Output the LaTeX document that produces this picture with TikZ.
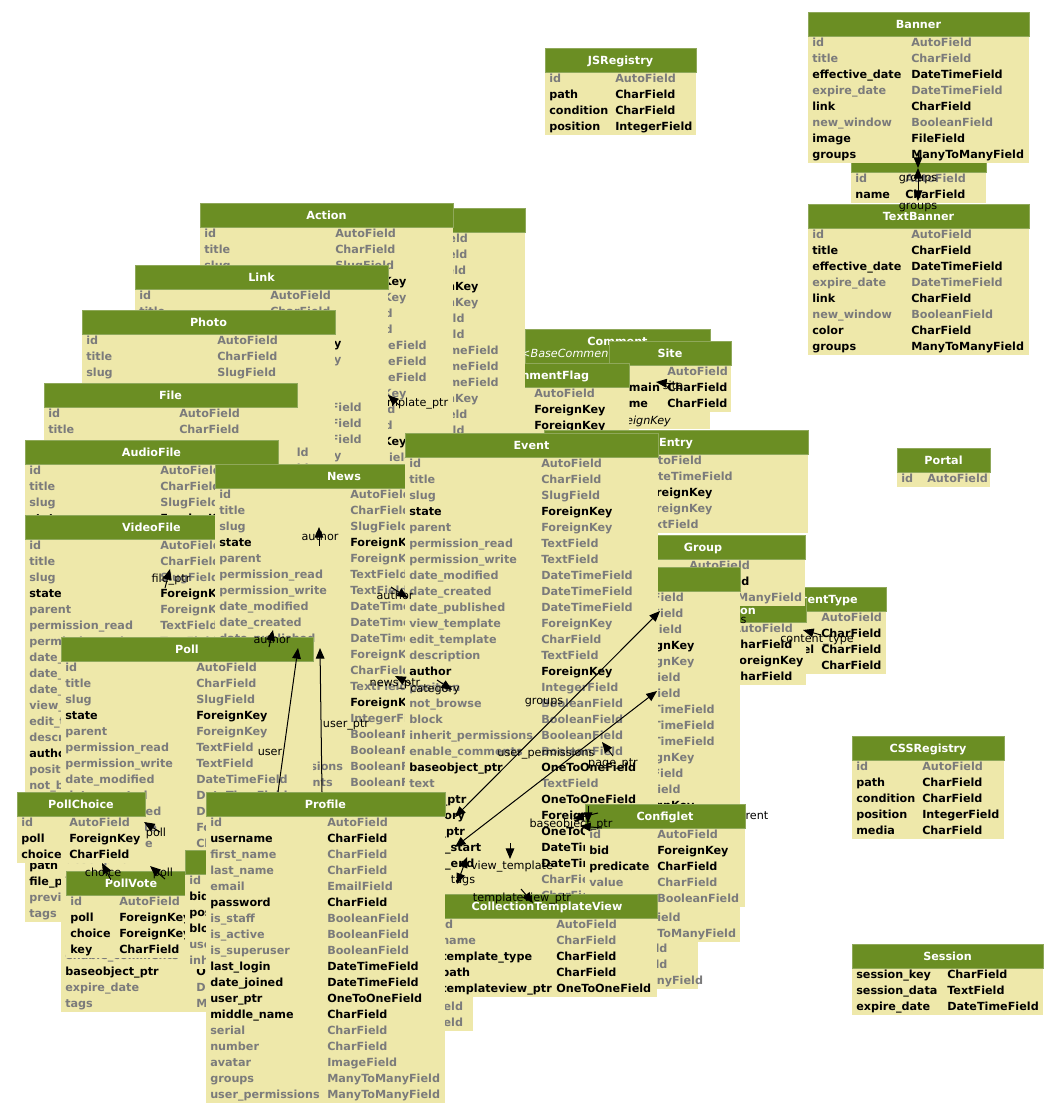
\documentclass[tikz,border=0pt]{standalone}
\usepackage{fontspec}
\setmainfont{DejaVu Sans}
\usetikzlibrary{arrows.meta}

\definecolor{headfill}{HTML}{6B8E23}
\definecolor{headline}{HTML}{8FA85A}
\definecolor{bodyfill}{HTML}{EEE8AA}
\definecolor{fieldgray}{HTML}{7B7B7B}
\colorlet{fcg}{fieldgray}
\colorlet{fcb}{black}
\colorlet{fci}{black}

\newcommand\tabfont{\fontsize{8.4}{10}\selectfont}
\def\rfg{\bfseries}
\def\rfb{\bfseries}
\def\rfi{\mdseries\itshape}
\def\headh{24}

\tikzset{
  tablebody/.style={anchor=north west, fill=bodyfill, inner sep=0pt, outer sep=0pt},
  tablehead/.style={anchor=north west, fill=headfill, draw=headline, line width=0.5pt, inner sep=0pt},
  headtitle/.style={anchor=base, text=white, font=\tabfont\bfseries, inner sep=0pt},
  headsub/.style={anchor=base, text=white, font=\tabfont\itshape, inner sep=0pt},
  fieldtext/.style={anchor=base west, inner sep=0pt},
  edgelabel/.style={anchor=base, font=\tabfont, inner sep=0pt},
  fkedge/.style={line width=0.75pt, -{Triangle[length=8pt,width=6.5pt]}},
  mmedge/.style={line width=0.75pt, {Triangle[length=8pt,width=6.5pt]}-{Triangle[length=8pt,width=6.5pt]}},
}

% name, left, top, width, type column, title, rows
\newcommand{\modeltable}[7]{%
  \expandafter\def\expandafter\rowlist\expandafter{#7}%
  \foreach \fname/\ftype/\fstyle [count=\rowi] in \rowlist {\xdef\nrows{\rowi}}%
  \node[tablebody, minimum width={#4*0.75pt}, minimum height={(\headh+16*\nrows-1)*0.75pt}] (#1) at (#2,#3) {};
  \node[tablehead, minimum width={#4*0.75pt}, minimum height={\headh*0.75pt}] (#1-head) at (#2,#3) {};
  \node[headtitle] (#1-title) at ({#2+#4/2},{#3+16}) {#6};
  \foreach \fname/\ftype/\fstyle [count=\rowi from 0] in \rowlist {
    \node[fieldtext, text=fc\fstyle, font={\tabfont\csname rf\fstyle\endcsname}] (#1-f\rowi) at ({#2+4},{#3+\headh+10+16*\rowi}) {\fname};
    \node[fieldtext, text=fc\fstyle, font={\tabfont\csname rf\fstyle\endcsname}] (#1-t\rowi) at ({#2+#5},{#3+\headh+10+16*\rowi}) {\ftype};
  }%
}

\def\articlehead{id/AutoField/g,title/CharField/g,slug/SlugField/g,state/ForeignKey/b,parent/ForeignKey/g,permission\_read/TextField/g,permission\_write/TextField/g,date\_modified/DateTimeField/g,date\_created/DateTimeField/g,date\_published/DateTimeField/g,view\_template/ForeignKey/g,edit\_template/CharField/g,description/TextField/g,author/ForeignKey/b,position/IntegerField/g,not\_browse/BooleanField/g,block/BooleanField/g,inherit\_permissions/BooleanField/g,enable\_comments/BooleanField/g}

\begin{document}
\begin{tikzpicture}[x=0.75pt,y=-0.75pt]
\useasboundingbox (0,0) rectangle (1060,1114);

\modeltable{jsregistry}{545}{48}{151}{70}{JSRegistry}{id/AutoField/g,path/CharField/b,condition/CharField/b,position/IntegerField/b}
\modeltable{portal}{897}{448}{93}{30}{Portal}{id/AutoField/g}
\modeltable{cssregistry}{852}{736}{152}{70}{CSSRegistry}{id/AutoField/g,path/CharField/b,condition/CharField/b,position/IntegerField/b,media/CharField/b}
\modeltable{session}{852}{944}{191}{95}{Session}{session\_key/CharField/b,session\_data/TextField/b,expire\_date/DateTimeField/b}
\modeltable{bannergroup}{851}{148}{135}{54}{}{id/AutoField/g,name/CharField/b}
\modeltable{banner}{808}{12}{221}{103}{Banner}{id/AutoField/g,title/CharField/g,effective\_date/DateTimeField/b,expire\_date/DateTimeField/g,link/CharField/b,new\_window/BooleanField/g,image/FileField/b,groups/ManyToManyField/b}
\modeltable{textbanner}{808}{204}{221}{103}{TextBanner}{id/AutoField/g,title/CharField/b,effective\_date/DateTimeField/b,expire\_date/DateTimeField/g,link/CharField/b,new\_window/BooleanField/g,color/CharField/b,groups/ManyToManyField/b}

\modeltable{hiddenlist}{455}{710}{243}{135}{}{{}/{}/g,{}/{}/g,{}/{}/g,{}/{}/g,{}/{}/g,{}/{}/g,{}/{}/g,{}/{}/g,{}/{}/g,{}/{}/g,{}/{}/g,{}/{}/g,{}/{}/g,{}/IntegerField/g,{}/IntegerField/g,{}/ManyToManyField/g}

\def\headh{37}
\modeltable{comment}{525}{329}{185}{83}{Comment}{id/AutoField/g,content\_type/ForeignKey/i,object\_pk/TextField/i,site/ForeignKey/i}
\node[headsub] (comment-sub) at (612,357) {<BaseCommentAbstractModel>};
\def\headh{24}
\modeltable{site}{609}{341}{122}{58}{Site}{id/AutoField/g,domain/CharField/b,name/CharField/b}
\modeltable{commentflag}{462}{363}{167}{72}{CommentFlag}{id/AutoField/g,user/ForeignKey/b,comment/ForeignKey/b,flag/CharField/g,flag\_date/DateTimeField/g}
\modeltable{pageitem}{272}{208}{253}{135}{}{\articlehead,baseobject\_ptr/OneToOneField/b}
\modeltable{action}{200}{203}{253}{135}{Action}{\articlehead,baseobject\_ptr/OneToOneField/b}

\coordinate (tp-from) at (399,405);
\coordinate (tp-to) at (388,395);
\draw[fkedge] (tp-from) -- (tp-to);
\node[edgelabel] (l-tplptr) at (412,406) {template\_ptr};

\modeltable{link}{135}{265}{253}{135}{Link}{\articlehead,baseobject\_ptr/OneToOneField/b}
\modeltable{photo}{82}{310}{253}{135}{Photo}{\articlehead,baseobject\_ptr/OneToOneField/b}
\modeltable{file}{44}{383}{253}{135}{File}{\articlehead,baseobject\_ptr/OneToOneField/b}
\modeltable{audiofile}{25}{440}{253}{135}{AudioFile}{\articlehead,baseobject\_ptr/OneToOneField/b}
\modeltable{videofile}{25}{515}{253}{135}{VideoFile}{\articlehead,baseobject\_ptr/OneToOneField/b,path/CharField/b,file\_ptr/OneToOneField/b,preview/ImageField/g,tags/ManyToManyField/g}
\modeltable{news}{215}{464}{258}{135}{News}{\articlehead,baseobject\_ptr/OneToOneField/b,{}/{}/g,{}/{}/g,{}/{}/g,{}/{}/g,{}/{}/g,{}/{}/g,{}/{}/g,{}/{}/g,{}/{}/g,{}/{}/g,{}/{}/g,{}/{}/g,{}/ManyToManyField/g,{}/ManyToManyField/g}
\modeltable{entry}{544}{430}{264}{97}{Entry}{id/AutoField/g,{}/DateTimeField/g,{}/ForeignKey/b,{}/ForeignKey/g,{}/TextField/g}
\modeltable{contenttype}{750}{587}{136}{71}{ContentType}{id/AutoField/g,name/CharField/b,app\_label/CharField/b,model/CharField/b}
\modeltable{permission}{636}{598}{170}{96}{Permission}{id/AutoField/g,name/CharField/b,content\_type/ForeignKey/b,codename/CharField/b}
\modeltable{group}{601}{535}{204}{88}{Group}{id/AutoField/g,name/CharField/b,permissions/ManyToManyField/g}
\node[edgelabel] (l-perms) at (713,623) {permissions};
\modeltable{pagelist}{488}{567}{252}{135}{}{\articlehead,baseobject\_ptr/OneToOneField/b,text/TextField/g,tags/ManyToManyField/g}
\modeltable{event}{405}{433}{253}{136}{Event}{\articlehead,baseobject\_ptr/OneToOneField/b,text/TextField/g,news\_ptr/OneToOneField/b,category/ForeignKey/b,page\_ptr/OneToOneField/b,event\_start/DateTimeField/b,event\_end/DateTimeField/b,{}/CharField/g,{}/CharField/g}
\node[edgelabel] (l-parent) at (750,819) {parent};
\modeltable{configlet}{585}{804}{160}{72}{Configlet}{id/AutoField/g,bid/ForeignKey/b,predicate/CharField/b,value/CharField/g,{}/BooleanField/g}
\modeltable{ctview}{437}{894}{220}{119}{CollectionTemplateView}{id/AutoField/g,name/CharField/g,template\_type/CharField/b,path/CharField/b,templateview\_ptr/OneToOneField/b}
\modeltable{poll}{61}{637}{252}{135}{Poll}{\articlehead,baseobject\_ptr/OneToOneField/b,expire\_date/DateTimeField/g,tags/ManyToManyField/g}
\modeltable{pollchoice}{17}{792}{128}{52}{PollChoice}{id/AutoField/g,poll/ForeignKey/b,choice/CharField/b}
\modeltable{pollvote}{66}{871}{130}{53}{PollVote}{id/AutoField/g,poll/ForeignKey/b,choice/ForeignKey/b,key/CharField/b}
\modeltable{portlet}{185}{850}{215}{100}{}{id/{}/g,bid/{}/b,position/{}/b,block/{}/b,user/{}/g,inherit/{}/g}
\modeltable{profile}{206}{792}{239}{121}{Profile}{id/AutoField/g,username/CharField/b,first\_name/CharField/g,last\_name/CharField/g,email/EmailField/g,password/CharField/b,is\_staff/BooleanField/g,is\_active/BooleanField/g,is\_superuser/BooleanField/g,last\_login/DateTimeField/b,date\_joined/DateTimeField/b,user\_ptr/OneToOneField/b,middle\_name/CharField/b,serial/CharField/g,number/CharField/g,avatar/ImageField/g,groups/ManyToManyField/g,user\_permissions/ManyToManyField/g}

% relations
\coordinate (bg-from) at (918,152);
\coordinate (bg-to) at (918,168);
\coordinate (tg-from) at (918,168);
\coordinate (tg-to) at (918,201);
\coordinate (na-from) at (319,546);
\coordinate (na-to) at (319,527);
\coordinate (fp-from) at (165,588);
\coordinate (fp-to) at (170,569);
\coordinate (ea-from) at (391,587);
\coordinate (ea-to) at (408,598);
\coordinate (pa-from) at (269,647);
\coordinate (pa-to) at (273,630);
\coordinate (pu-from) at (278,792);
\coordinate (pu-to) at (298,648);
\coordinate (pp-from) at (322,792);
\coordinate (pp-to) at (320,648);
\coordinate (pc-from) at (160,832);
\coordinate (pc-to) at (144,822);
\coordinate (vc-from) at (111,880);
\coordinate (vc-to) at (102,863);
\coordinate (vp-from) at (165,879);
\coordinate (vp-to) at (150,866);
\coordinate (np-from) at (411,684);
\coordinate (np-to) at (395,676);
\coordinate (ec-from) at (437,680);
\coordinate (ec-to) at (452,690);
\coordinate (pg-from) at (455,817);
\coordinate (pg-to) at (660,611);
\coordinate (up-from) at (455,847);
\coordinate (up-to) at (657,691);
\coordinate (gp-from) at (613,756);
\coordinate (gp-to) at (602,742);
\coordinate (bo1-from) at (598,813);
\coordinate (bo1-to) at (573,819);
\coordinate (bo2-from) at (602,828);
\coordinate (bo2-to) at (580,826);
\coordinate (bo3-from) at (588,806);
\coordinate (bo3-to) at (588,823);
\coordinate (vt-from) at (510,843);
\coordinate (vt-to) at (510,859);
\coordinate (tg2-from) at (467,857);
\coordinate (tg2-to) at (457,884);
\coordinate (tv-from) at (521,889);
\coordinate (tv-to) at (533,903);
\coordinate (ct-from) at (821,635);
\coordinate (ct-to) at (803,630);
\coordinate (st-from) at (673,384);
\coordinate (st-to) at (656,382);

\draw[fkedge] (bg-from) -- (bg-to);
\draw[mmedge] (tg-from) -- (tg-to);
\draw[fkedge] (na-from) -- (na-to);
\draw[fkedge] (fp-from) -- (fp-to);
\draw[fkedge] (ea-from) -- (ea-to);
\draw[fkedge] (pa-from) -- (pa-to);
\draw[fkedge] (pu-from) -- (pu-to);
\draw[fkedge] (pp-from) -- (pp-to);
\draw[fkedge] (pc-from) -- (pc-to);
\draw[fkedge] (vc-from) -- (vc-to);
\draw[fkedge] (vp-from) -- (vp-to);
\draw[fkedge] (np-from) -- (np-to);
\draw[fkedge] (ec-from) -- (ec-to);
\draw[mmedge] (pg-from) -- (pg-to);
\draw[mmedge] (up-from) -- (up-to);
\draw[fkedge] (gp-from) -- (gp-to);
\draw[fkedge] (bo1-from) -- (bo1-to);
\draw[fkedge] (bo2-from) -- (bo2-to);
\draw[fkedge] (bo3-from) -- (bo3-to);
\draw[fkedge] (vt-from) -- (vt-to);
\draw[mmedge] (tg2-from) -- (tg2-to);
\draw[fkedge] (tv-from) -- (tv-to);
\draw[fkedge] (ct-from) -- (ct-to);
\draw[fkedge] (st-from) -- (st-to);

\node[edgelabel] (l-groups1) at (918,181) {groups};
\node[edgelabel] (l-groups2) at (918,209) {groups};
\node[edgelabel] (l-author1) at (320,540) {author};
\node[edgelabel] (l-fileptr) at (171,582) {file\_ptr};
\node[edgelabel] (l-author2) at (395,599) {author};
\node[edgelabel] (l-author3) at (272,643) {author};
\node[edgelabel] (l-user) at (270,755) {user};
\node[edgelabel] (l-userptr) at (346,727) {user\_ptr};
\node[edgelabel] (l-poll1) at (156,836) {poll};
\node[edgelabel] (l-choice) at (103,876) {choice};
\node[edgelabel] (l-poll2) at (163,876) {poll};
\node[edgelabel] (l-newsptr) at (395,686) {news\_ptr};
\node[edgelabel] (l-category) at (435,692) {category};
\node[edgelabel] (l-groups3) at (544,704) {groups};
\node[edgelabel] (l-userperms) at (546,756) {user\_permissions};
\node[edgelabel] (l-pageptr) at (613,766) {page\_ptr};
\node[edgelabel] (l-baseptr) at (571,827) {baseobject\_ptr};
\node[edgelabel] (l-viewtpl) at (512,869) {view\_template};
\node[edgelabel] (l-tags) at (463,883) {tags};
\node[edgelabel] (l-tvptr) at (522,901) {templateview\_ptr};
\node[edgelabel] (l-ctype) at (817,642) {content\_type};
\node[edgelabel] (l-site) at (673,389) {site};
\end{tikzpicture}
\end{document}
